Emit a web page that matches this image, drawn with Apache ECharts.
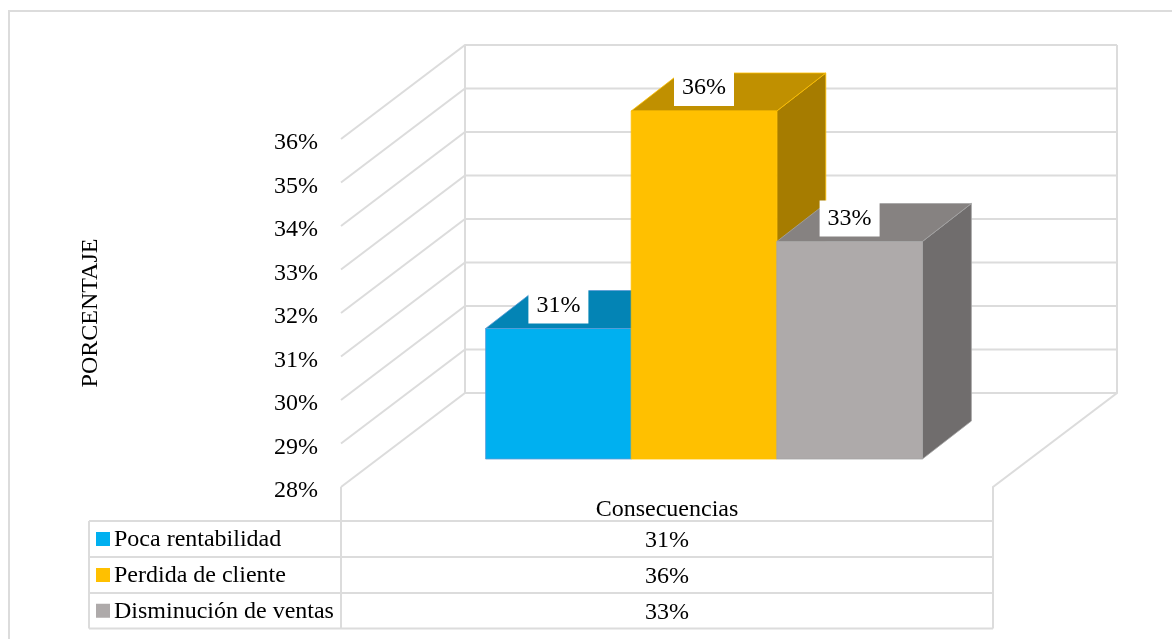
<!DOCTYPE html>
<html>
<head>
<meta charset="utf-8">
<style>html,body{margin:0;padding:0;background:#fff}#c{width:1172px;height:639px}</style>
<script src="https://cdn.jsdelivr.net/npm/echarts@6/dist/echarts.min.js"></script>
</head>
<body>
<div id="c"></div>
<script>
var categories = ['Consecuencias'];
var seriesNames = ['Poca rentabilidad', 'Perdida de cliente', 'Disminución de ventas'];
var seriesValues = [31, 36, 33];
var yTicks = [28, 29, 30, 31, 32, 33, 34, 35, 36];
var yAxisTitle = 'PORCENTAJE';

var frontColors = ['#00B0F0', '#FFC000', '#AEAAAA'];
var topColors = ['#0384B5', '#C09000', '#868281'];
var sideColors = ['#02749E', '#A67C00', '#706D6D'];
var edgeColors = ['#5B9BD5', '#FFC000', '#A5A5A5'];

var FONT = '"Liberation Serif","Times New Roman",serif';
var FS = 24;
var GRID = '#DCDCDC';
var LW = 2;
var chart = echarts.init(document.getElementById('c'));

// projection of the chart's 3D depth
var WALL = [124, -94], FLOOR_OFF = [37, -28], BAR_DEPTH = [49, -38], BAR_W = 145.6;

function wallItem(params, api) {
  var v = api.value(1), cs = params.coordSys;
  var y = api.coord([0, v])[1], x0 = cs.x, x1 = cs.x + cs.width;
  var bx0 = x0 + WALL[0], bx1 = x1 + WALL[0], by = y + WALL[1];
  var st = { stroke: GRID, lineWidth: LW, fill: null };
  var kids = [{ type: 'polyline', shape: { points: [[x0, y], [bx0, by], [bx1, by]] }, style: st }];
  if (v === yTicks[0]) {
    var topY = api.coord([0, yTicks[yTicks.length - 1]])[1] + WALL[1];
    kids.push({ type: 'polyline', shape: { points: [[bx0, topY], [bx0, by]] }, style: st });
    kids.push({ type: 'polyline', shape: { points: [[bx1, topY], [bx1, by], [x1, y], [x1, 521]] }, style: st });
    kids.push({ type: 'polyline', shape: { points: [[x0, y], [x0, 521]] }, style: st });
  }
  return { type: 'group', children: kids };
}

function barItem(idx) {
  return function (params, api) {
    var base = api.coord([0, yTicks[0]]);
    var top = api.coord([0, api.value(1)]);
    var x = base[0] + FLOOR_OFF[0] + (idx - 1.5) * BAR_W;
    var xr = x + BAR_W;
    var yb = base[1] + FLOOR_OFF[1], yt = top[1] + FLOOR_OFF[1];
    var dx = BAR_DEPTH[0], dy = BAR_DEPTH[1];
    var edge = edgeColors[idx];
    var cx = x + BAR_W / 2, cy = yt - 23;
    return {
      type: 'group',
      children: [
        { type: 'polygon', shape: { points: [[xr, yt], [xr + dx, yt + dy], [xr + dx, yb + dy], [xr, yb]] },
          style: { fill: sideColors[idx], stroke: edge, lineWidth: 0.8 } },
        { type: 'polygon', shape: { points: [[x, yt], [x + dx, yt + dy], [xr + dx, yt + dy], [xr, yt]] },
          style: { fill: topColors[idx], stroke: edge, lineWidth: 0.8 } },
        { type: 'rect', shape: { x: x, y: yt, width: BAR_W, height: yb - yt },
          style: { fill: frontColors[idx], stroke: edge, lineWidth: 0.8 } },
        { type: 'rect', shape: { x: cx - 30, y: cy - 18, width: 60, height: 36 }, style: { fill: '#fff' } },
        { type: 'text', style: { x: cx, y: cy, text: api.value(1) + '%', align: 'center', verticalAlign: 'middle',
            font: FS + 'px ' + FONT, fill: '#000' } }
      ]
    };
  };
}

var series = [{
  type: 'custom', silent: true, renderItem: wallItem, clip: false,
  encode: { x: 0, y: 1 },
  data: yTicks.map(function (t) { return [0, t]; })
}];
seriesNames.forEach(function (n, i) {
  series.push({
    type: 'custom', name: n, silent: true, renderItem: barItem(i), clip: false,
    encode: { x: 0, y: 1 },
    data: [[0, seriesValues[i]]]
  });
});

// data table under the chart
var TX0 = 89, TX1 = 341, TX2 = 993, ROWS = [521, 557, 593, 628.5];
var g = [];
function line(pts, w) {
  g.push({ type: 'polyline', silent: true, shape: { points: pts }, style: { stroke: GRID, lineWidth: w || LW, fill: null } });
}
line([[9, 639], [9, 11], [1172, 11]], 2);
ROWS.forEach(function (y) { line([[TX0, y], [TX2, y]]); });
[TX0, TX1, TX2].forEach(function (x) { line([[x, ROWS[0]], [x, ROWS[3]]]); });
seriesNames.forEach(function (n, i) {
  var yc = (ROWS[i] + ROWS[i + 1]) / 2;
  g.push({ type: 'rect', silent: true, shape: { x: 96, y: yc - 7, width: 14, height: 14 }, style: { fill: frontColors[i] } });
  g.push({ type: 'text', silent: true, style: { x: 114, y: yc + 1, text: n, align: 'left', verticalAlign: 'middle', font: FS + 'px ' + FONT, fill: '#000' } });
  g.push({ type: 'text', silent: true, style: { x: (TX1 + TX2) / 2, y: yc + 2, text: seriesValues[i] + '%', align: 'center', verticalAlign: 'middle', font: FS + 'px ' + FONT, fill: '#000' } });
});

chart.setOption({
  animation: false,
  backgroundColor: '#fff',
  grid: { left: 341, top: 139, width: 652, height: 348, containLabel: false },
  xAxis: {
    type: 'category', data: categories,
    axisLine: { show: false }, axisTick: { show: false }, splitLine: { show: false },
    axisLabel: { margin: 11, fontFamily: FONT, fontSize: FS, color: '#000' }
  },
  yAxis: {
    type: 'value', min: yTicks[0], max: yTicks[yTicks.length - 1], interval: 1,
    axisLine: { show: false }, axisTick: { show: false }, splitLine: { show: false },
    axisLabel: { margin: 23, fontFamily: FONT, fontSize: FS, color: '#000', verticalAlign: 'top', lineHeight: 8,
      formatter: function (v) { return v + '%'; } },
    name: yAxisTitle, nameLocation: 'middle', nameGap: 238, nameRotate: 90,
    nameTextStyle: { fontFamily: FONT, fontSize: FS, color: '#000' }
  },
  series: series,
  graphic: { elements: g }
});
</script>
</body>
</html>
